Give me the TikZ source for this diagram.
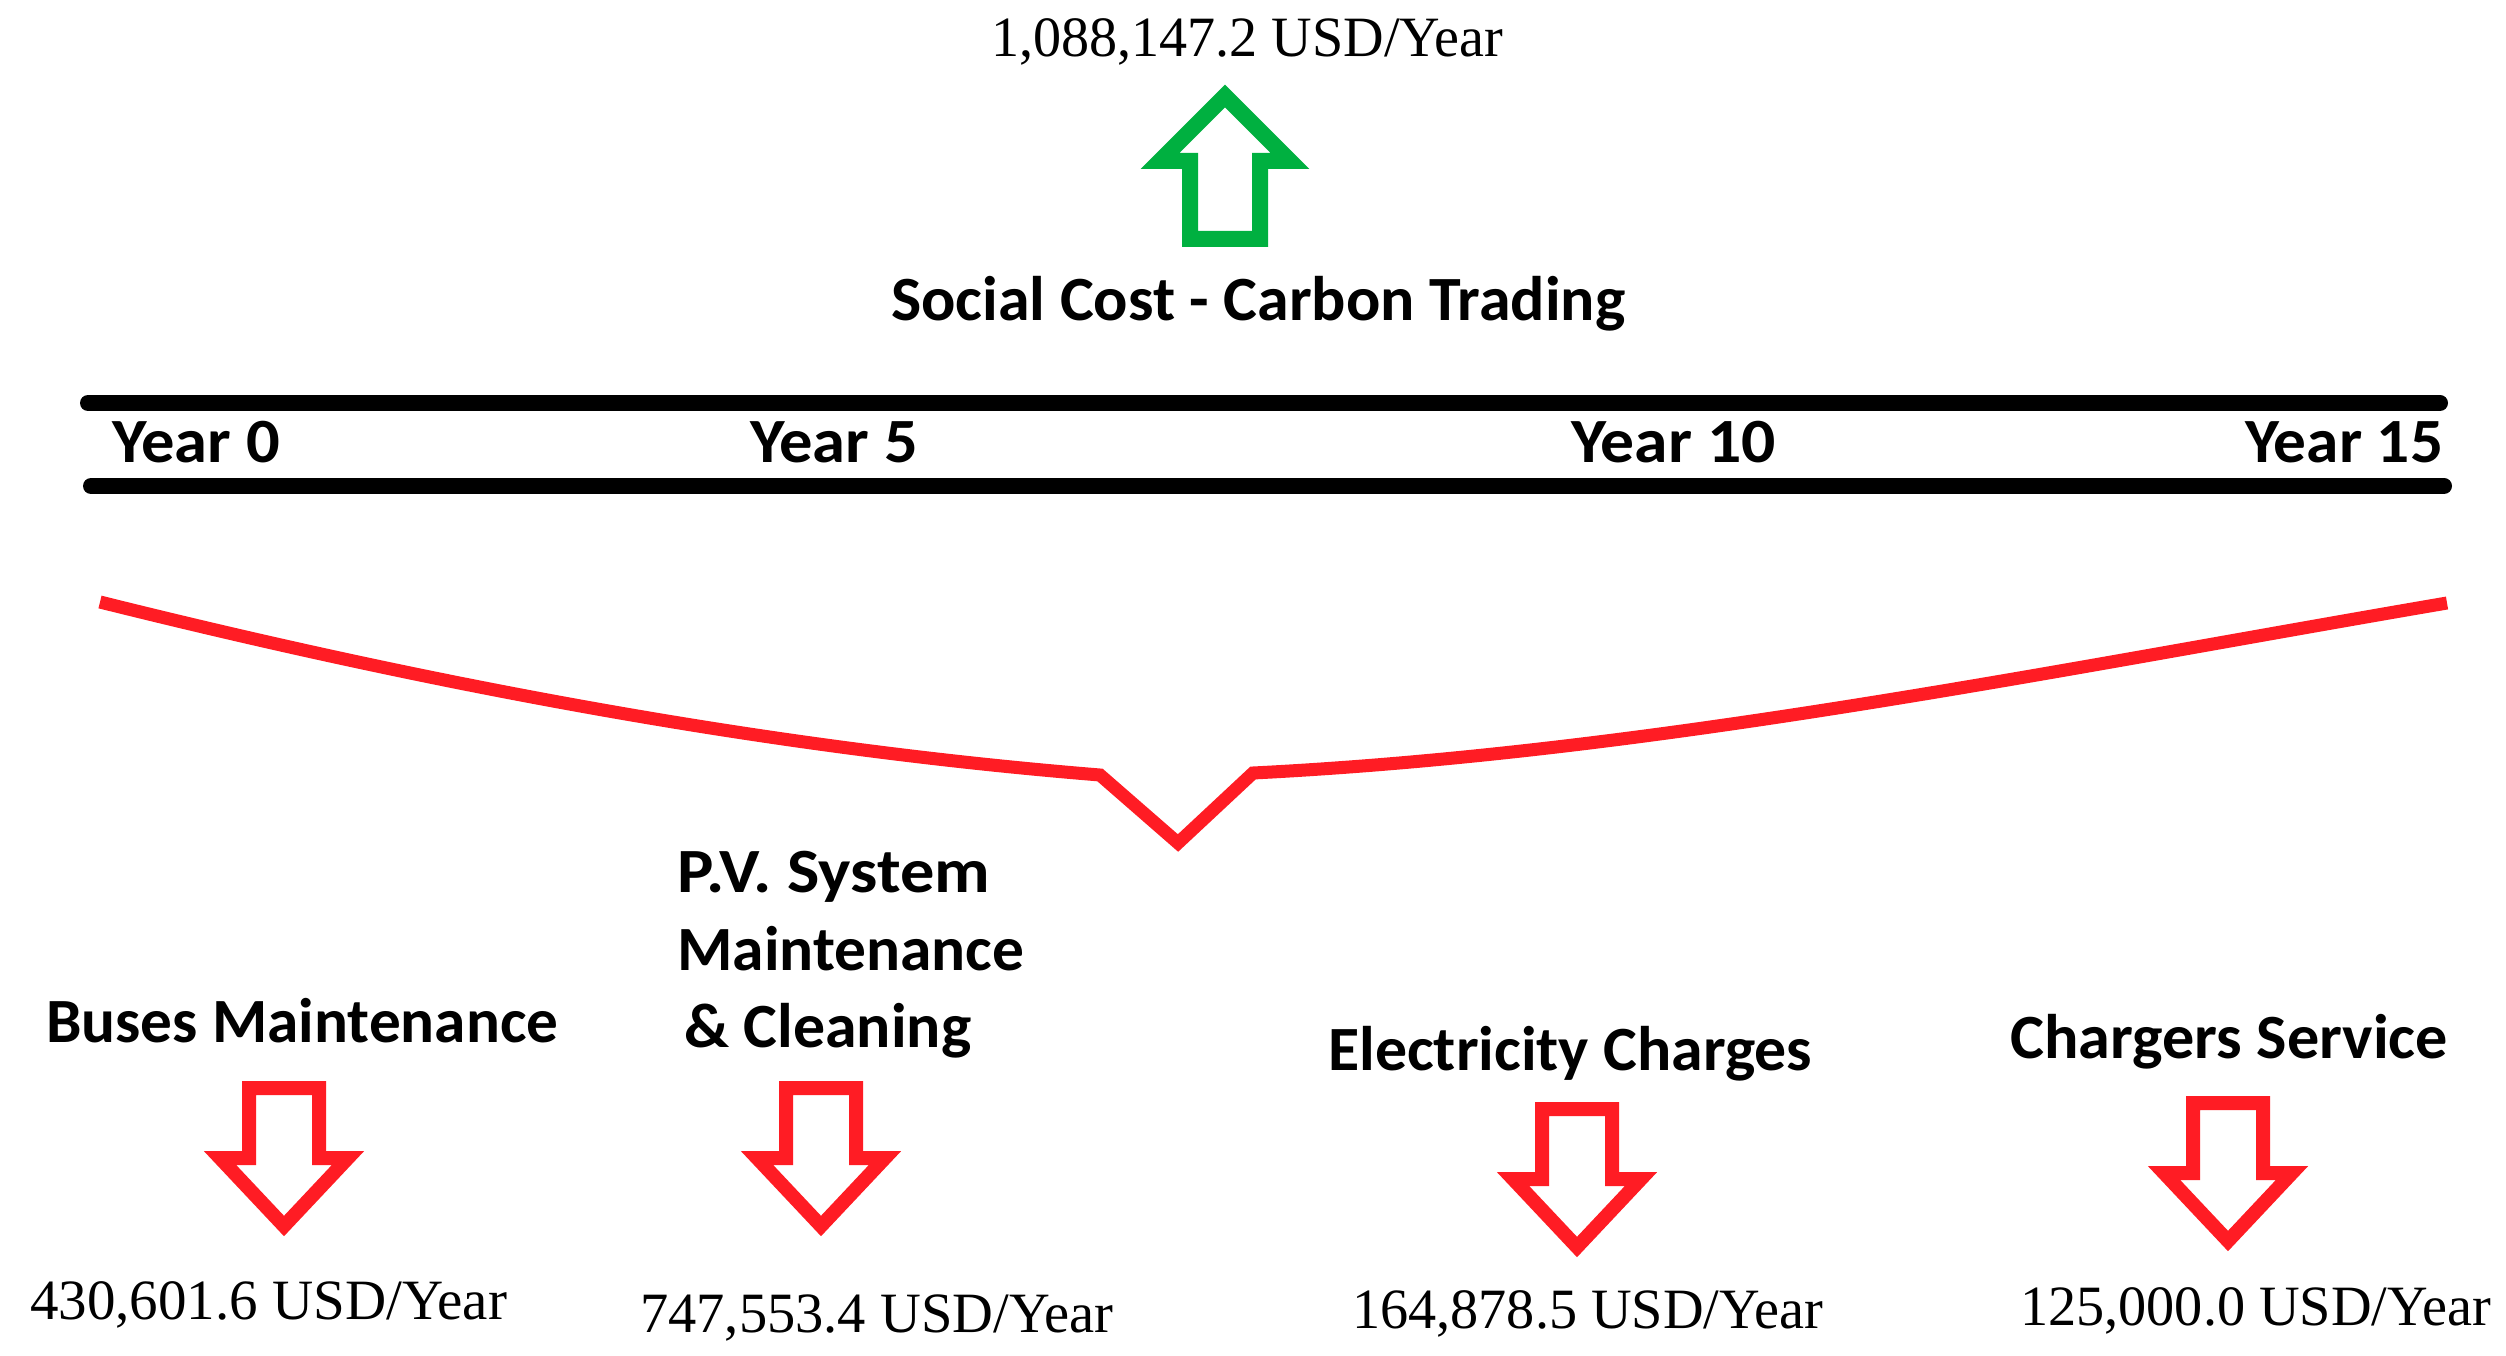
\documentclass[tikz,border=0pt]{standalone}
\usepackage{fontspec}
\usepackage{graphicx}
\newfontfamily\calib{Carlito}
\newfontfamily\tnr{Liberation Serif}
\definecolor{costred}{RGB}{255,28,36}
\definecolor{gaingreen}{RGB}{0,176,64}
\newcommand\fitto[2]{\resizebox{#1pt}{\height}{#2}}
\tikzset{
  lbl/.style={anchor=base west, inner sep=0pt, font=\calib\bfseries\fontsize{63}{74}\selectfont},
  num/.style={anchor=base west, inner sep=0pt, font=\tnr\fontsize{57}{66}\selectfont},
  bar/.style={line width=16pt, line cap=round},
  costline/.style={draw=costred, line width=13pt, line join=miter},
  redarrow/.style={draw=costred, line width=14pt, line join=miter},
  greenarrow/.style={draw=gaingreen, line width=16pt, line join=miter},
  downarr/.pic={\draw[redarrow] (-35,0) -- (35,0) -- (35,70) -- (64,70) -- (0,138) -- (-64,70) -- (-35,70) -- cycle;}
}
\begin{document}
\begin{tikzpicture}[x=1pt, y=-1pt]
\useasboundingbox (0,0) rectangle (2506,1356);
\fill[white] (0,0) rectangle (2506,1356);

% top value and green arrow
\node[num] (topval) at (991,57) {\fitto{512}{1,088,147.2 USD/Year}};
\draw[greenarrow] (1190,239) -- (1190,161) -- (1160,161) -- (1225,96) -- (1290,161) -- (1260,161) -- (1260,239) -- cycle;
\node[lbl] (social) at (891,320) {\fitto{734}{Social Cost - Carbon Trading}};

% timeline bars
\draw[bar] (88,403) -- (2440,403);
\draw[bar] (91,486) -- (2444,486);
\node[lbl] (y0) at (112,462) {\fitto{168}{Year 0}};
\node[lbl] (y5) at (750,462) {\fitto{168}{Year 5}};
\node[lbl] (y10) at (1571,462) {\fitto{205}{Year 10}};
\node[lbl] (y15) at (2245,462) {\fitto{198}{Year 15}};

% red cost curve
\draw[costline] (100,602) .. controls (433,685) and (767,748) .. (1100,775) -- (1178,843) -- (1253,773) .. controls (1651,753) and (2049,671) .. (2447,603);

% cost labels
\node[lbl] (bus) at (46,1042) {\fitto{512}{Buses Maintenance}};
\node[lbl] (pv1) at (677,892) {\fitto{313}{P.V. System}};
\node[lbl] (pv2) at (677,970) {\fitto{347}{Maintenance}};
\node[lbl] (pv3) at (684,1047) {\fitto{287}{\& Cleaning}};
\node[lbl] (elec) at (1328,1070) {\fitto{484}{Electricity Charges}};
\node[lbl] (chg) at (2010,1058) {\fitto{438}{Chargers Service}};

% red down arrows
\pic (a1) at (284,1088) {downarr};
\pic (a2) at (821,1088) {downarr};
\pic (a3) at (1577,1109) {downarr};
\pic (a4) at (2228,1103) {downarr};

% values
\node[num] (v1) at (30,1319) {\fitto{477}{430,601.6 USD/Year}};
\node[num] (v2) at (640,1332) {\fitto{473}{747,553.4 USD/Year}};
\node[num] (v3) at (1352,1328) {\fitto{471}{164,878.5 USD/Year}};
\node[num] (v4) at (2020,1325) {\fitto{471}{125,000.0 USD/Year}};
\end{tikzpicture}
\end{document}
